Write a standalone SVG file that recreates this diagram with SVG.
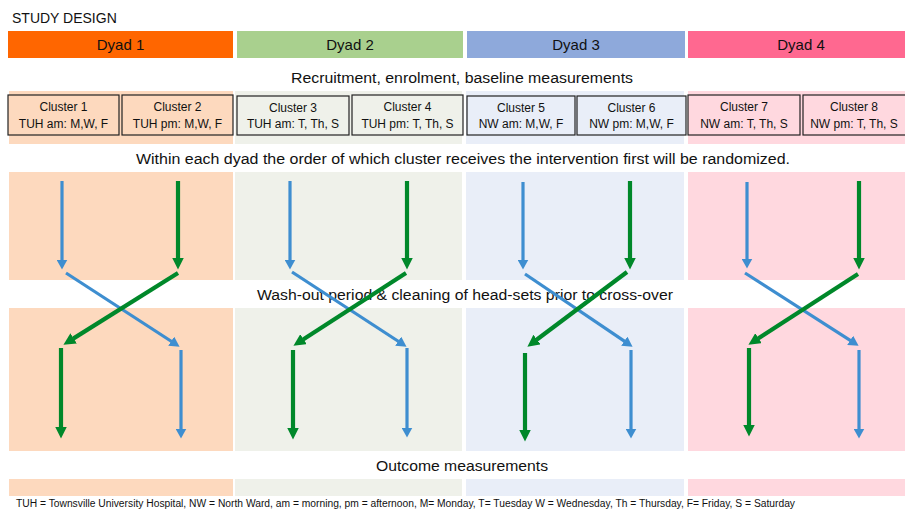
<svg xmlns="http://www.w3.org/2000/svg" width="905" height="510" viewBox="0 0 905 510">
<style>
text{font-family:"Liberation Sans",Arial,sans-serif;fill:#111;}
.lbl{font-size:15.5px;text-anchor:middle;}
.hd{font-size:15px;text-anchor:middle;}
.cl{font-size:12px;text-anchor:middle;}
.box{stroke:#222;stroke-width:1.2;}
.b{stroke:#3E8ED0;stroke-width:3.2;fill:none;marker-end:url(#hb);}
.g{stroke:#00882A;stroke-width:4.2;fill:none;marker-end:url(#hg);}
</style>
<defs>
<marker id="hb" markerUnits="userSpaceOnUse" viewBox="0 0 10 11" markerWidth="10" markerHeight="11" refX="0.5" refY="5.5" orient="auto"><path d="M0,0 L10,5.5 L0,11 z" fill="#3E8ED0"/></marker>
<marker id="hg" markerUnits="userSpaceOnUse" viewBox="0 0 12 12" markerWidth="12" markerHeight="12" refX="0.5" refY="6" orient="auto"><path d="M0,0 L12,6 L0,12 z" fill="#00882A"/></marker>
</defs>
<rect width="905" height="510" fill="#fff"/>
<text x="12" y="23" style="font-size:14px">STUDY DESIGN</text>

<g id="dyad1">
<rect x="8" y="31" width="225" height="27" fill="#FF6600"/>
<text class="hd" x="120.5" y="50">Dyad 1</text>
<rect x="9" y="91" width="224" height="53" fill="#FDD9BE"/>
<rect x="9" y="172" width="224" height="108" fill="#FDD9BE"/>
<rect x="9" y="308" width="224" height="143" fill="#FDD9BE"/>
<rect x="9" y="479" width="224" height="17" fill="#FDD9BE"/>
</g>
<g id="dyad2">
<rect x="237" y="31" width="226" height="27" fill="#A9D08E"/>
<text class="hd" x="350" y="50">Dyad 2</text>
<rect x="235" y="91" width="227" height="53" fill="#EFF1EA"/>
<rect x="235" y="172" width="227" height="108" fill="#EFF1EA"/>
<rect x="235" y="308" width="227" height="143" fill="#EFF1EA"/>
<rect x="235" y="479" width="227" height="17" fill="#EFF1EA"/>
</g>
<g id="dyad3">
<rect x="467" y="31" width="218" height="27" fill="#8EA9DB"/>
<text class="hd" x="576" y="50">Dyad 3</text>
<rect x="466" y="91" width="218" height="53" fill="#E9EEF8"/>
<rect x="466" y="172" width="218" height="108" fill="#E9EEF8"/>
<rect x="466" y="308" width="218" height="143" fill="#E9EEF8"/>
<rect x="466" y="479" width="218" height="17" fill="#E9EEF8"/>
</g>
<g id="dyad4">
<rect x="688" y="31" width="217" height="27" fill="#FF6890"/>
<text class="hd" x="801" y="50">Dyad 4</text>
<rect x="688" y="91" width="217" height="53" fill="#FFD8DF"/>
<rect x="688" y="172" width="217" height="108" fill="#FFD8DF"/>
<rect x="688" y="308" width="217" height="143" fill="#FFD8DF"/>
<rect x="688" y="479" width="217" height="17" fill="#FFD8DF"/>
</g>

<g id="cluster1"><rect class="box" x="8" y="95" width="111" height="40" fill="#FDD9BE"/><text class="cl" x="63.5" y="111">Cluster 1</text><text class="cl" x="63.5" y="128">TUH am: M,W, F</text></g>
<g id="cluster2"><rect class="box" x="122" y="95" width="111" height="40" fill="#FDD9BE"/><text class="cl" x="177.5" y="111">Cluster 2</text><text class="cl" x="177.5" y="128">TUH pm: M,W, F</text></g>
<g id="cluster3"><rect class="box" x="237" y="96" width="112" height="39" fill="#EFF1EA"/><text class="cl" x="293" y="112">Cluster 3</text><text class="cl" x="293" y="128">TUH am: T, Th, S</text></g>
<g id="cluster4"><rect class="box" x="352" y="95" width="111" height="40" fill="#EFF1EA"/><text class="cl" x="407.5" y="111">Cluster 4</text><text class="cl" x="407.5" y="128">TUH pm: T, Th, S</text></g>
<g id="cluster5"><rect class="box" x="467" y="96" width="108" height="39" fill="#E9EEF8"/><text class="cl" x="521" y="112">Cluster 5</text><text class="cl" x="521" y="128">NW am: M,W, F</text></g>
<g id="cluster6"><rect class="box" x="577" y="96" width="109" height="39" fill="#E9EEF8"/><text class="cl" x="631.5" y="112">Cluster 6</text><text class="cl" x="631.5" y="128">NW pm: M,W, F</text></g>
<g id="cluster7"><rect class="box" x="688" y="95" width="112" height="40" fill="#FFD8DF"/><text class="cl" x="744" y="111">Cluster 7</text><text class="cl" x="744" y="128">NW am: T, Th, S</text></g>
<g id="cluster8"><rect class="box" x="803" y="95" width="110" height="40" fill="#FFD8DF"/><text class="cl" x="854" y="111">Cluster 8</text><text class="cl" x="854" y="128">NW pm: T, Th, S</text></g>

<text class="lbl" x="462" y="83" textLength="342" lengthAdjust="spacingAndGlyphs">Recruitment, enrolment, baseline measurements</text>
<text class="lbl" x="463" y="164" textLength="654" lengthAdjust="spacingAndGlyphs">Within each dyad the order of which cluster receives the intervention first will be randomized.</text>
<text class="lbl" x="465" y="300" textLength="416" lengthAdjust="spacingAndGlyphs">Wash-out period &amp; cleaning of head-sets prior to cross-over</text>
<text class="lbl" x="462" y="471" textLength="172" lengthAdjust="spacingAndGlyphs">Outcome measurements</text>
<text x="16" y="507" style="font-size:10px" textLength="779" lengthAdjust="spacingAndGlyphs">TUH = Townsville University Hospital, NW = North Ward, am = morning, pm = afternoon, M= Monday, T= Tuesday W = Wednesday, Th = Thursday, F= Friday, S = Saturday</text>

<g id="connectors">
<line class="b" x1="62" y1="181" x2="62" y2="260"/>
<line class="g" x1="178" y1="181" x2="178" y2="258"/>
<line class="b" x1="66" y1="273" x2="171.6" y2="341.5"/>
<line class="g" x1="178" y1="273" x2="73.2" y2="338.6"/>
<line class="g" x1="61" y1="348" x2="61" y2="427"/>
<line class="b" x1="181" y1="350" x2="181" y2="429"/>

<line class="b" x1="290" y1="181" x2="290" y2="260"/>
<line class="g" x1="407" y1="181" x2="407" y2="258"/>
<line class="b" x1="292" y1="272" x2="398.6" y2="341.5"/>
<line class="g" x1="406" y1="273" x2="303.1" y2="339.5"/>
<line class="g" x1="293" y1="350" x2="293" y2="428"/>
<line class="b" x1="407" y1="348" x2="407" y2="428"/>

<line class="b" x1="523" y1="182" x2="523" y2="260"/>
<line class="g" x1="630" y1="181" x2="630" y2="258"/>
<line class="b" x1="525" y1="274" x2="624.7" y2="341.4"/>
<line class="g" x1="627" y1="272" x2="536.6" y2="339.8"/>
<line class="g" x1="525" y1="353" x2="525" y2="430"/>
<line class="b" x1="631" y1="350" x2="631" y2="429"/>

<line class="b" x1="747" y1="182" x2="747" y2="259"/>
<line class="g" x1="859" y1="181" x2="859" y2="258"/>
<line class="b" x1="745" y1="273" x2="850.6" y2="340.6"/>
<line class="g" x1="858" y1="274" x2="758.1" y2="338.5"/>
<line class="g" x1="749" y1="348" x2="749" y2="425"/>
<line class="b" x1="859" y1="350" x2="859" y2="429"/>
</g>
</svg>
